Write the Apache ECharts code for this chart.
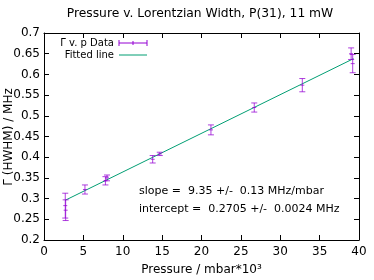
<!DOCTYPE html>
<html><head><meta charset="utf-8">
<script src="https://cdn.jsdelivr.net/npm/echarts@6/dist/echarts.min.js"></script>
<style>html,body{margin:0;padding:0;background:#fff}#c{width:374px;height:280px}</style>
</head><body><div id="c"></div>
<script>
// Data
var pressure = [2.7, 2.75, 5.2, 7.8, 8.0, 13.8, 14.7, 21.2, 26.7, 32.8, 39.0, 39.2];
var width    = [0.283, 0.272, 0.322, 0.343, 0.350, 0.395, 0.408, 0.466, 0.520, 0.574, 0.650, 0.626];
var errors   = [0.030, 0.025, 0.011, 0.010, 0.007, 0.009, 0.004, 0.012, 0.011, 0.016, 0.014, 0.022];
var fitX = [2.7, 39.3];
var fitY = [0.296, 0.638];
var xTicks = [0, 5, 10, 15, 20, 25, 30, 35, 40];
var yTicks = [0.2, 0.25, 0.3, 0.35, 0.4, 0.45, 0.5, 0.55, 0.6, 0.65, 0.7];

var purple = '#9400d3', green = '#009e73';
var FONT = 'DejaVu Sans';

var errData = pressure.map(function(x, i){ return [x, width[i], errors[i]]; });
var fitData = fitX.map(function(x, i){ return [x, fitY[i]]; });

var chart = echarts.init(document.getElementById('c'), null, {renderer: 'canvas'});
var axisCommon = {
  axisLine: {show: true, onZero: false, lineStyle: {color: '#000', width: 1}},
  axisTick: {show: true, inside: true, length: 5, lineStyle: {color: '#000'}},
  splitLine: {show: false}
};
function mk(base, extra){ return Object.assign({}, base, extra); }

chart.setOption({
  animation: false,
  grid: {left: 44, right: 15, top: 33, bottom: 40, containLabel: false, outerBoundsMode: 'none'},
  xAxis: [
    mk(axisCommon, {type: 'value', min: 0, max: 40, interval: 5, position: 'bottom',
      name: 'Pressure / mbar*10³', nameLocation: 'middle', nameGap: 24,
      nameTextStyle: {fontFamily: FONT, fontSize: 12, color: '#000'},
      axisLabel: {fontFamily: FONT, fontSize: 12, color: '#000', margin: 6}}),
    mk(axisCommon, {type: 'value', min: 0, max: 40, interval: 5, position: 'top', axisLabel: {show: false}})
  ],
  yAxis: [
    mk(axisCommon, {type: 'value', min: 0.2, max: 0.7, interval: 0.05, position: 'left',
      axisLabel: {fontFamily: FONT, fontSize: 12, color: '#000', margin: 4,
        formatter: function(v){ return String(Math.round(v*100)/100); }}}),
    mk(axisCommon, {type: 'value', min: 0.2, max: 0.7, interval: 0.05, position: 'right', axisLabel: {show: false}})
  ],
  series: [
    {type: 'line', data: fitData, symbol: 'none', lineStyle: {color: green, width: 1}, z: 2},
    {type: 'custom', data: errData, z: 3,
      renderItem: function(params, api){
        var x = api.value(0), y = api.value(1), e = api.value(2);
        var p = api.coord([x, y]), hi = api.coord([x, y + e]), lo = api.coord([x, y - e]);
        var c = 3, m = 2;
        var st = {stroke: purple, lineWidth: 1, opacity: 0.75};
        return {type: 'group', children: [
          {type: 'line', shape: {x1: p[0], y1: hi[1], x2: p[0], y2: lo[1]}, style: st},
          {type: 'line', shape: {x1: p[0]-c, y1: hi[1], x2: p[0]+c, y2: hi[1]}, style: st},
          {type: 'line', shape: {x1: p[0]-c, y1: lo[1], x2: p[0]+c, y2: lo[1]}, style: st},
          {type: 'line', shape: {x1: p[0]-m, y1: p[1], x2: p[0]+m, y2: p[1]}, style: st}
        ]};
      }}
  ],
  graphic: [
    {type: 'text', x: 200, y: 14, style: {text: 'Pressure v. Lorentzian Width, P(31), 11 mW', fontFamily: FONT, fontSize: 12.3, fill: '#000', align: 'center', verticalAlign: 'middle'}},
    {type: 'text', x: 9, y: 137, rotation: Math.PI / 2, style: {text: 'Γ (HWHM) / MHz', fontFamily: FONT, fontSize: 12, fill: '#000', align: 'center', verticalAlign: 'middle'}},
    {type: 'text', x: 114, y: 43, style: {text: 'Γ v. p Data', fontFamily: FONT, fontSize: 10, fill: '#000', align: 'right', verticalAlign: 'middle'}},
    {type: 'line', shape: {x1: 119, y1: 43, x2: 147, y2: 43}, style: {stroke: purple, lineWidth: 1}},
    {type: 'line', shape: {x1: 119, y1: 40, x2: 119, y2: 46}, style: {stroke: purple, lineWidth: 1}},
    {type: 'line', shape: {x1: 147, y1: 40, x2: 147, y2: 46}, style: {stroke: purple, lineWidth: 1}},
    {type: 'line', shape: {x1: 133, y1: 41, x2: 133, y2: 45}, style: {stroke: purple, lineWidth: 1}},
    {type: 'text', x: 114, y: 55, style: {text: 'Fitted line', fontFamily: FONT, fontSize: 10, fill: '#000', align: 'right', verticalAlign: 'middle'}},
    {type: 'line', shape: {x1: 119, y1: 55, x2: 147, y2: 55}, style: {stroke: green, lineWidth: 1}},
    {type: 'text', x: 139, y: 191, style: {text: 'slope =  9.35 +/-  0.13 MHz/mbar', fontFamily: FONT, fontSize: 11, fill: '#000', align: 'left', verticalAlign: 'middle'}},
    {type: 'text', x: 139, y: 209, style: {text: 'intercept =  0.2705 +/-  0.0024 MHz', fontFamily: FONT, fontSize: 11, fill: '#000', align: 'left', verticalAlign: 'middle'}}
  ]
});
</script></body></html>
